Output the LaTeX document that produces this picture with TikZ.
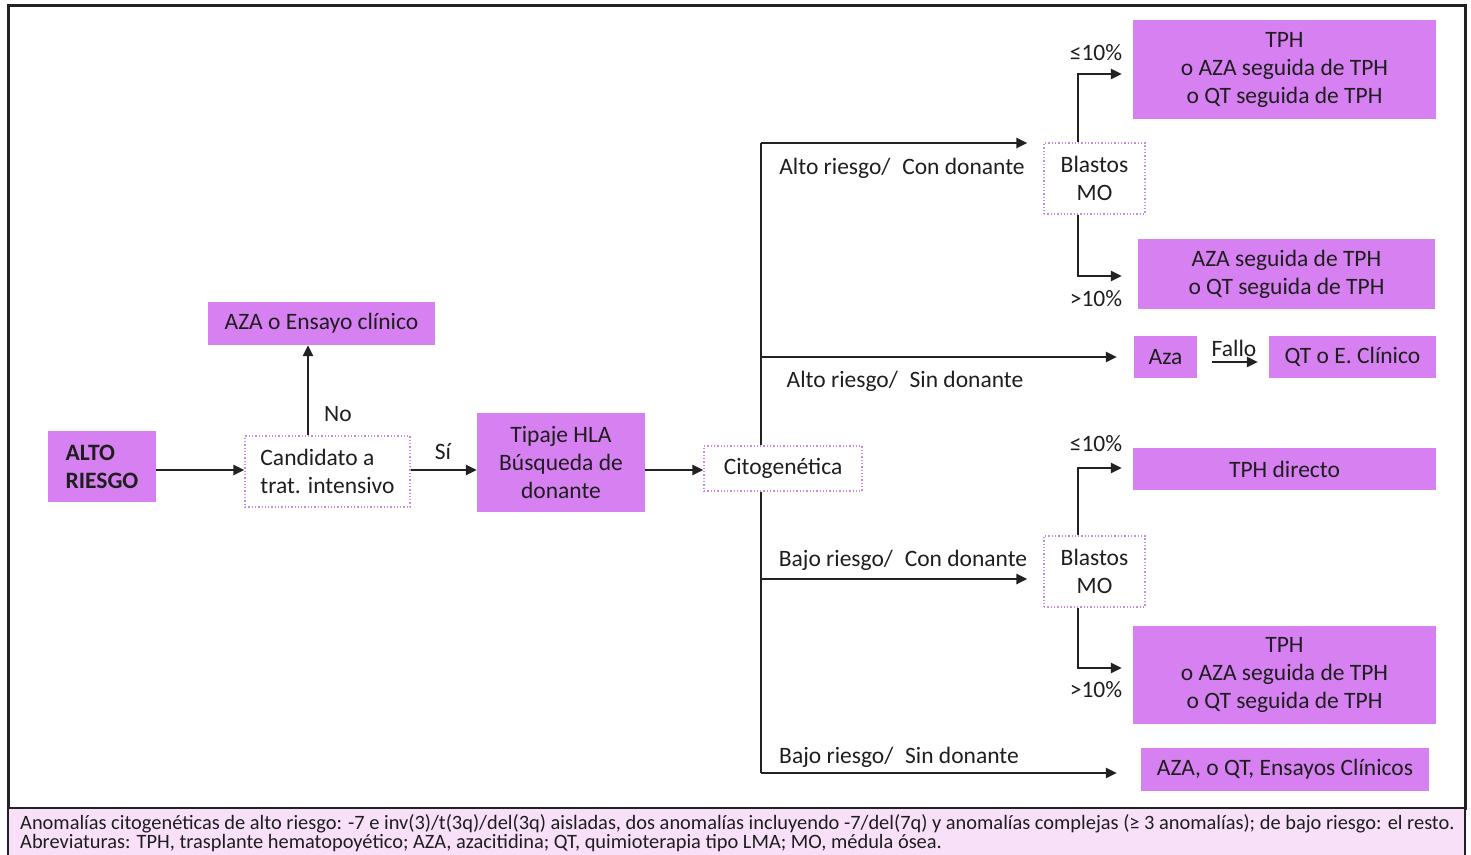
\documentclass[tikz,border=0pt]{standalone}
\usepackage{fontspec}
\setmainfont{Carlito}
\usetikzlibrary{arrows.meta,positioning}
\definecolor{boxc}{RGB}{214,128,242}
\definecolor{dotc}{RGB}{200,140,222}
\definecolor{footc}{RGB}{248,224,248}
\definecolor{linec}{RGB}{34,34,34}
\definecolor{txt}{RGB}{30,30,30}
\newcommand{\fsz}{\fontsize{23.5}{28}\selectfont}
\newcommand{\fsf}{\fontsize{20.4}{19}\selectfont}
\tikzset{
  pbox/.style={fill=boxc, draw=none, inner sep=0pt, align=center, text=txt, font=\fsz},
  dbox/.style={draw=dotc, dotted, line width=1.3pt, fill=white, inner sep=0pt, align=center, text=txt, font=\fsz},
  arr/.style={-{Triangle[length=11pt,width=10pt]}, line width=2.8pt, draw=linec},
  ln/.style={line width=2.8pt, draw=linec},
  lbl/.style={text=txt, font=\fsz, inner sep=0pt},
  foot/.style={text=txt, font=\fsf, inner sep=0pt, anchor=base west},
}
\begin{document}
\begin{tikzpicture}[x=1pt,y=-1pt]
\useasboundingbox (0,0) rectangle (1471,854);
% frame
\draw[line width=3pt, draw=linec] (8,5) rectangle (1465,808);
\draw[line width=2pt, draw=linec, fill=footc] (8,808) rectangle (1465,856);
\node[foot] (f1) at (20,829) {Anomalías citogenéticas de alto riesgo: -7 e inv(3)/t(3q)/del(3q) aisladas, dos anomalías incluyendo -7/del(7q) y anomalías complejas (≥ 3 anomalías); de bajo riesgo: el resto.};
\node[foot] (f2) at (20,848) {Abreviaturas: TPH, trasplante hematopoyético; AZA, azacitidina; QT, quimioterapia tipo LMA; MO, médula ósea.};

% left part
\node[pbox, minimum width=108pt, minimum height=71pt, align=left, font=\fsz\bfseries] (alto) at (102,466.5) {ALTO\\RIESGO};
\node[dbox, minimum width=165pt, minimum height=71pt, align=left] (cand) at (327.5,471.5) {Candidato a\\trat. intensivo};
\node[pbox, minimum width=227pt, minimum height=43pt] (aza0) at (321.5,323.5) {AZA o Ensayo clínico};
\node[pbox, minimum width=168pt, minimum height=99pt] (hla) at (561,462.5) {Tipaje HLA\\Búsqueda de\\donante};
\node[dbox, minimum width=158pt, minimum height=45pt] (cito) at (783,468.5) {Citogenética};

\draw[arr] (alto.east |- 0,470) -- (cand.west |- 0,470);
\draw[arr] (cand.east |- 0,470) -- (hla.west |- 0,470);
\draw[arr] (cand.north -| 308,0) -- (aza0.south -| 308,0);
\draw[arr] (hla.east |- 0,470) -- (cito.west |- 0,470);
\node[lbl] (no) at (338,414) {No};
\node[lbl] (si) at (443,452) {Sí};

% trunk
\coordinate (t1) at (761,143);
\coordinate (t2) at (761,357);
\coordinate (t3) at (761,579);
\coordinate (t4) at (761,773);
\draw[ln] (cito.north -| t1) -- (t1);
\draw[ln] (cito.south -| t1) -- (t4);

% right boxes
\node[dbox, minimum width=101pt, minimum height=71pt] (bl1) at (1094.5,178.5) {Blastos\\MO};
\node[dbox, minimum width=101pt, minimum height=71pt] (bl2) at (1094.5,571.5) {Blastos\\MO};
\node[pbox, minimum width=303pt, minimum height=99pt] (r1) at (1284.5,69.5) {TPH\\o AZA seguida de TPH\\o QT seguida de TPH};
\node[pbox, minimum width=297pt, minimum height=70pt] (r2) at (1286.5,274) {AZA seguida de TPH\\o QT seguida de TPH};
\node[pbox, minimum width=63pt, minimum height=42pt] (aza) at (1165.5,357) {Aza};
\node[pbox, minimum width=167pt, minimum height=42pt] (qt) at (1352.5,357) {QT o E. Clínico};
\node[pbox, minimum width=303pt, minimum height=42pt] (r3) at (1284.5,469) {TPH directo};
\node[pbox, minimum width=303pt, minimum height=98pt] (r4) at (1284.5,675) {TPH\\o AZA seguida de TPH\\o QT seguida de TPH};
\node[pbox, minimum width=288pt, minimum height=43pt] (r5) at (1285,769.5) {AZA, o QT, Ensayos Clínicos};

% branch arrows
\draw[arr, shorten >=16pt] (t1) -- (bl1.west |- t1);
\draw[arr, shorten >=17pt] (t2) -- (aza.west |- t2);
\draw[arr, shorten >=16pt] (t3) -- (bl2.west |- t3);
\draw[arr, shorten >=24pt] (t4) -- (r5.west |- t4);
\draw[arr, shorten >=11pt] (bl1.north -| 1078,0) |- (r1.west |- 0,74);
\draw[arr, shorten >=16pt] (bl1.south -| 1078,0) |- (r2.west |- 0,276);
\draw[arr, shorten >=11pt] (bl2.north -| 1078,0) |- (r3.west |- 0,468);
\draw[arr, shorten >=11pt] (bl2.south -| 1078,0) |- (r4.west |- 0,668);
\draw[arr, shorten <=15pt, shorten >=11pt] (aza.east |- 0,362) -- (qt.west |- 0,362);

\node[lbl] (la1) at (902,168) {Alto riesgo/\hspace{0.5em}Con donante};
\node[lbl] (la2) at (905,381) {Alto riesgo/\hspace{0.5em}Sin donante};
\node[lbl] (la3) at (903,560) {Bajo riesgo/\hspace{0.5em}Con donante};
\node[lbl] (la4) at (899,757) {Bajo riesgo/\hspace{0.5em}Sin donante};
\node[lbl] (p1) at (1096,53) {≤10\%};
\node[lbl] (p2) at (1096,299) {>10\%};
\node[lbl] (p3) at (1096,444) {≤10\%};
\node[lbl] (p4) at (1096,690) {>10\%};
\node[lbl] (fa) at (1234,348) {Fallo};
\end{tikzpicture}
\end{document}
